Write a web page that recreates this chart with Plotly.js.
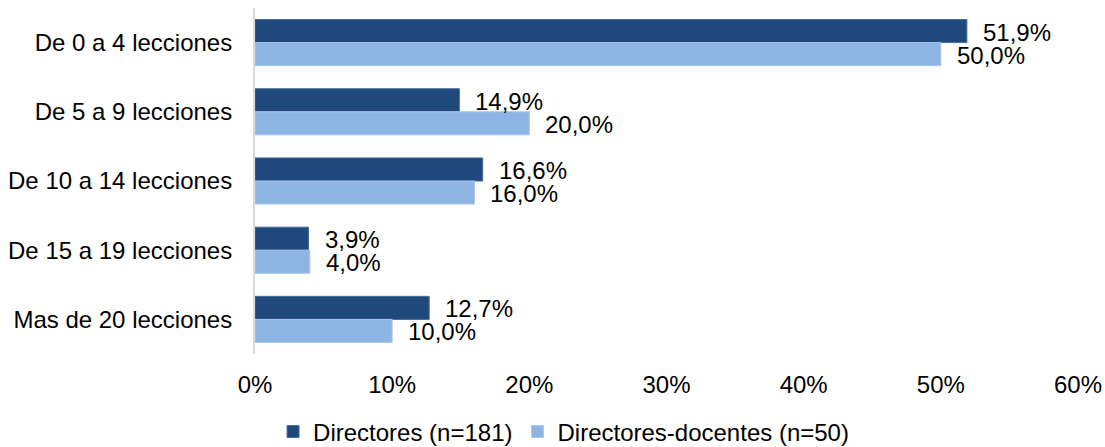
<!DOCTYPE html>
<html>
<head>
<meta charset="utf-8">
<script src="https://cdn.plot.ly/plotly-3.0.1.min.js"></script>
<style>html,body{margin:0;padding:0;background:#fff;}#chart{width:1105px;height:447px;}</style>
</head>
<body>
<div id="chart"></div>
<script>
var categories = ["De 0 a 4 lecciones", "De 5 a 9 lecciones", "De 10 a 14 lecciones", "De 15 a 19 lecciones", "Mas de 20 lecciones"];
var directores = [51.9, 14.9, 16.6, 3.9, 12.7];
var directoresDocentes = [50.0, 20.0, 16.0, 4.0, 10.0];
var seriesNames = ["Directores (n=181)", "Directores-docentes (n=50)"];
var tickVals = [0, 10, 20, 30, 40, 50, 60];
var tickText = ["0%", "10%", "20%", "30%", "40%", "50%", "60%"];

var FONT = "Liberation Sans, Arial, sans-serif";
var dark = "#1F497D";
var light = "#8EB4E3";

function fmt(v) { return v.toFixed(1).replace(".", ",") + "%"; }

var traces = [
  {type: "bar", orientation: "h", name: seriesNames[0], y: categories, x: directores,
   marker: {color: dark, line: {color: "#4a6b96", width: 1}}, hoverinfo: "none"},
  {type: "bar", orientation: "h", name: seriesNames[1], y: categories, x: directoresDocentes,
   marker: {color: light, line: {color: "#a9c6ea", width: 1}}, hoverinfo: "none"}
];

var annotations = [];
var series = [directores, directoresDocentes];
var offsets = [-1/6, 1/6];
for (var s = 0; s < 2; s++) {
  for (var i = 0; i < categories.length; i++) {
    annotations.push({
      x: series[s][i], y: i + offsets[s], xref: "x", yref: "y",
      text: fmt(series[s][i]), showarrow: false,
      xanchor: "left", yanchor: "middle", xshift: 14, yshift: -1,
      font: {family: FONT, size: 24, color: "#000"}
    });
  }
}

var layout = {
  width: 1105, height: 447,
  margin: {l: 255, r: 27, t: 8, b: 93},
  paper_bgcolor: "#fff", plot_bgcolor: "#fff",
  barmode: "group", bargap: 1/3, bargroupgap: 0,
  font: {family: FONT, size: 24, color: "#000"},
  showlegend: true,
  legend: {orientation: "h", xref: "container", x: 0.51, xanchor: "center",
           yref: "container", y: 0.084, yanchor: "top",
           font: {family: FONT, size: 24, color: "#000"}, traceorder: "normal", itemwidth: 30},
  xaxis: {range: [0, 60], tickvals: tickVals, ticktext: tickText, showgrid: false, zeroline: false,
          showline: false, ticks: "outside", ticklen: 9, tickcolor: "rgba(0,0,0,0)",
          tickfont: {family: FONT, size: 24, color: "#000"}, fixedrange: true, automargin: false},
  yaxis: {type: "category", categoryorder: "array", categoryarray: categories, autorange: "reversed",
          showgrid: false, zeroline: false, showline: true, linecolor: "#d9d9d9", linewidth: 2,
          ticks: "outside", ticklen: 16, tickcolor: "rgba(0,0,0,0)",
          tickfont: {family: FONT, size: 24, color: "#000"}, fixedrange: true, automargin: false},
  annotations: annotations
};

Plotly.newPlot("chart", traces, layout, {displayModeBar: false, staticPlot: true});
</script>
</body>
</html>
